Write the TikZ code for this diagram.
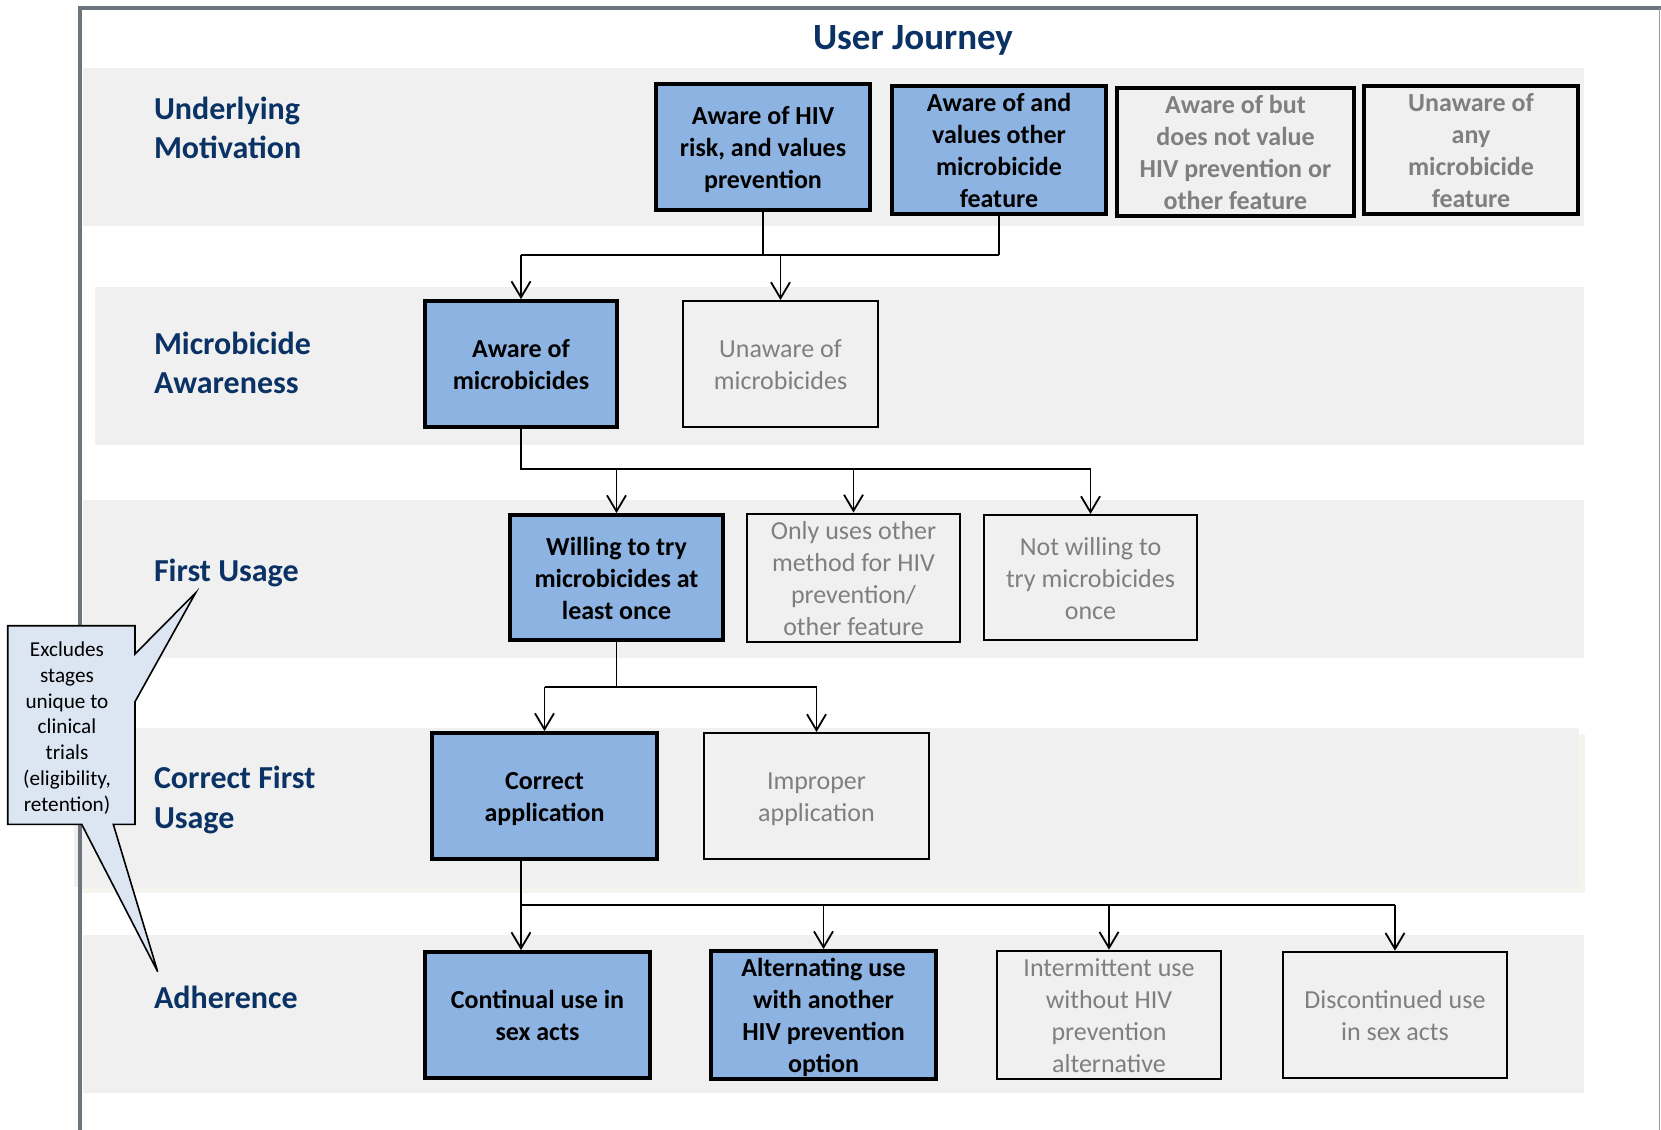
\documentclass[tikz,border=0pt]{standalone}
\usepackage{fontspec}
\setmainfont{Carlito}
\usetikzlibrary{arrows.meta}
\definecolor{bandgray}{HTML}{F0F0F0}
\definecolor{bandshadow}{HTML}{F5F3EE}
\definecolor{boxblue}{HTML}{8DB3E2}
\definecolor{ujnavy}{RGB}{10,50,100}
\definecolor{txtgray}{HTML}{7F7F7F}
\definecolor{callblue}{HTML}{DCE6F2}
\definecolor{framegray}{RGB}{108,116,126}
\definecolor{framelight}{RGB}{150,156,164}
\newcommand{\ujbox}[1]{\raisebox{-1.75pt}[\height][\depth]{\begin{tabular}{@{}c@{}}#1\end{tabular}}}
\begin{document}
\begin{tikzpicture}[x=0.5pt,y=-0.5pt,
  band/.style={fill=bandgray,draw=none},
  boxtext/.style={inner sep=0pt,minimum height=63pt},
  selbox/.style={boxtext,draw=black,line width=1.9pt,fill=boxblue,text=black,
    font=\bfseries\fontsize{13}{16}\selectfont},
  altbox/.style={boxtext,draw=black,line width=1pt,fill=bandgray,text=txtgray,
    font=\fontsize{13}{16}\selectfont},
  altbold/.style={altbox,line width=2pt,font=\bfseries\fontsize{13}{16}\selectfont},
  altmid/.style={altbox,line width=1.3pt},
  rowlabel/.style={anchor=west,align=left,text=ujnavy,inner sep=0pt,
    font=\bfseries\fontsize{16}{19.6}\selectfont},
  conn/.style={line width=0.9pt},
  arr/.style={conn,-{Straight Barb[length=8pt,width=9.5pt,line width=0.9pt]}}
]
\useasboundingbox (0,0) rectangle (1661,1130);
\fill[white] (0,0) rectangle (1661,1130);

% bands
\fill[band] (83,68) rectangle (1584,226);
\fill[band] (95,287) rectangle (1584,445);
\fill[band] (83,500) rectangle (1584,658);
\fill[bandshadow] (80,734) rectangle (1585,893);
\fill[band] (74,728) rectangle (1579,887);
\fill[band] (83,935) rectangle (1584,1093);

% frame
\draw[framegray,line width=1.6pt] (78,8) -- (1661,8);
\draw[framegray,line width=2pt] (80,7) -- (80,1130);
\draw[framelight,line width=0.6pt] (1659.5,8) -- (1659.5,1130);

% title
\node[text=ujnavy,font=\bfseries\fontsize{18.5}{22}\selectfont] (title) at (913,40) {User Journey};

% row labels
\node[rowlabel] (l1) at (153.6,128) {Underlying\\Motivation};
\node[rowlabel] (l2) at (153.6,363) {Microbicide\\Awareness};
\node[rowlabel] (l3) at (153.6,573) {First Usage};
\node[rowlabel] (l4) at (153.6,800) {Correct First\\Usage};
\node[rowlabel] (l5) at (153.6,997) {Adherence};

% row 1
\node[selbox,minimum width=107pt] (b11) at (763,147) {\ujbox{Aware of HIV\\risk, and values\\prevention}};
\node[selbox,minimum width=107pt] (b12) at (999,150) {\ujbox{Aware of and\\values other\\microbicide\\feature}};
\node[altbold,minimum width=118.5pt] (b13) at (1235.5,152) {\ujbox{Aware of but\\does not value\\HIV prevention or\\other feature}};
\node[altbold,minimum width=107pt] (b14) at (1471,150) {\ujbox{Unaware of\\any\\microbicide\\feature}};

% row 2
\node[selbox,minimum width=96pt] (b21) at (521,364) {\ujbox{Aware of\\microbicides}};
\node[altbox,minimum width=97.5pt] (b22) at (780.5,364) {\ujbox{Unaware of\\microbicides}};

% row 3
\node[selbox,minimum width=106.5pt,minimum height=62.5pt] (b31) at (616.5,577.5) {\ujbox{Willing to try\\microbicides at\\least once}};
\node[altbox,minimum width=106.5pt,minimum height=62.5pt] (b32) at (853.5,577.5) {\ujbox{Only uses other\\method for HIV\\prevention/\\other feature}};
\node[altbox,minimum width=106.5pt,minimum height=62.5pt] (b33) at (1090.5,577.5) {\ujbox{Not willing to\\try microbicides\\once}};

% row 4
\node[selbox,minimum width=112.5pt] (b41) at (544.5,796) {\ujbox{Correct\\application}};
\node[altbox,minimum width=112.5pt] (b42) at (816.5,796) {\ujbox{Improper\\application}};

% row 5
\node[selbox,minimum width=112.5pt] (b51) at (537.5,1015) {\ujbox{Continual use in\\sex acts}};
\node[selbox,minimum width=112.5pt] (b52) at (823.5,1015) {\ujbox{Alternating use\\with another\\HIV prevention\\option}};
\node[altmid,minimum width=112pt] (b53) at (1109,1015) {\ujbox{Intermittent use\\without HIV\\prevention\\alternative}};
\node[altmid,minimum width=112pt] (b54) at (1395,1015) {\ujbox{Discontinued use\\in sex acts}};

% junction levels
\coordinate (h1) at (0,255);
\coordinate (h2) at (0,469);
\coordinate (h3) at (0,687);
\coordinate (h4) at (521,904.6);

% connectors 1
\draw[conn] (b11.south) -- (b11.south |- h1);
\draw[conn] (b12.south) -- (b12.south |- h1);
\draw[conn] (b21.north |- h1) -- (b12.south |- h1);
\draw[arr] (b21.north |- h1) -- (b21.north);
\draw[arr] (b22.north |- h1) -- (b22.north);

% connectors 2
\draw[conn] (b21.south) -- (b21.south |- h2) -- (b33.north |- h2);
\draw[arr] (b31.north |- h2) -- (b31.north);
\draw[arr] (b32.north |- h2) -- (b32.north);
\draw[arr] (b33.north |- h2) -- (b33.north);

% connectors 3
\draw[conn] (b31.south) -- (b31.south |- h3);
\draw[conn] (b41.north |- h3) -- (b42.north |- h3);
\draw[arr] (b41.north |- h3) -- (b41.north);
\draw[arr] (b42.north |- h3) -- (b42.north);

% connectors 4
\draw[conn] (b41.south -| h4) -- (h4) -- (b54.north |- h4);
\draw[arr] (h4) -- (b51.north -| h4);
\draw[arr] (b52.north |- h4) -- (b52.north);
\draw[arr] (b53.north |- h4) -- (b53.north);
\draw[arr] (b54.north |- h4) -- (b54.north);

% callout
\draw[fill=callblue,line width=0.8pt,line join=miter]
  (7.7,625.7) -- (135,625.7) -- (135,654) -- (195.7,592.7) -- (135,701.7)
  -- (135,824.3) -- (113.3,824.3) -- (157.7,971.7) -- (81.7,824.3)
  -- (7.7,824.3) -- cycle;
\node[align=center,inner sep=0pt,font=\fontsize{10.6}{12.9}\selectfont] (note) at (67,728)
  {Excludes\\stages\\unique to\\clinical\\trials\\(eligibility,\\retention)};
\end{tikzpicture}
\end{document}
